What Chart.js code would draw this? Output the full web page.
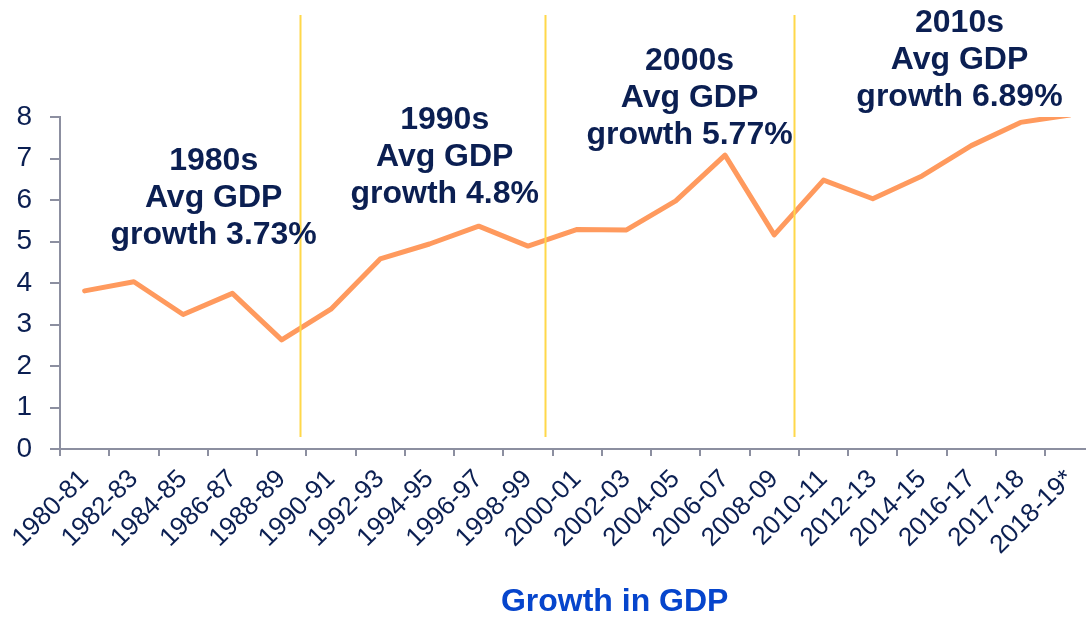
<!DOCTYPE html>
<html>
<head>
<meta charset="utf-8">
<script src="https://cdn.jsdelivr.net/npm/chart.js@4"></script>
<style>
  html, body { margin: 0; padding: 0; background: #fff; overflow: hidden; }
  #box { position: absolute; left: 0; top: 0; width: 1100px; height: 618px; }
</style>
</head>
<body>
<div id="box"><canvas id="gdp"></canvas></div>
<script>
// financial years on the x axis
var years = ['1980-81','1982-83','1984-85','1986-87','1988-89','1990-91','1992-93','1994-95',
  '1996-97','1998-99','2000-01','2002-03','2004-05','2006-07','2008-09','2010-11','2012-13',
  '2014-15','2016-17','2017-18','2018-19*'];
// GDP growth (%)
var growth = [3.81, 4.03, 3.24, 3.75, 2.63, 3.37, 4.58, 4.94, 5.37, 4.89, 5.29, 5.28,
  5.98, 7.08, 5.16, 6.48, 6.03, 6.58, 7.31, 7.87, 8.05];
var yTicks = [0, 1, 2, 3, 4, 5, 6, 7, 8];

// decade averages
var decades = ['1980s', '1990s', '2000s', '2010s'];
var decadeAvg = ['3.73', '4.8', '5.77', '6.89'];

// where the decade notes and yellow dividers sit (in scale units)
var notePos = [[2.62, 6.05], [7.31, 7.02], [12.28, 8.46], [17.76, 9.37]];
var dividers = [4.37, 9.34, 14.41];

var navy = '#0B1F52';
var axisGrey = '#8C8FA0';

var decadePlugin = {
  id: 'decadeNotes',
  afterDatasetsDraw: function(chart) {
    var ctx = chart.ctx;
    var xs = chart.scales.x, ys = chart.scales.y;
    ctx.save();
    // yellow dividers
    ctx.strokeStyle = '#FFD84A';
    ctx.lineWidth = 2;
    for (var i = 0; i < dividers.length; i++) {
      var px = Math.round(xs.getPixelForValue(dividers[i])) + 0.5;
      ctx.beginPath();
      ctx.moveTo(px, ys.getPixelForValue(10.46));
      ctx.lineTo(px, ys.getPixelForValue(0.29));
      ctx.stroke();
    }
    // decade text
    ctx.fillStyle = navy;
    ctx.font = 'bold 32px "Liberation Sans", Arial, sans-serif';
    ctx.textAlign = 'center';
    ctx.textBaseline = 'middle';
    for (var j = 0; j < decades.length; j++) {
      var cx = xs.getPixelForValue(notePos[j][0]);
      var cy = ys.getPixelForValue(notePos[j][1]);
      var lines = [decades[j], 'Avg GDP', 'growth ' + decadeAvg[j] + '%'];
      for (var k = 0; k < lines.length; k++) {
        ctx.fillText(lines[k], cx, cy + (k - 1) * 37);
      }
    }
    // axis title
    ctx.fillStyle = '#0645CC';
    ctx.font = 'bold 32px "Liberation Sans", Arial, sans-serif';
    ctx.fillText('Growth in GDP', xs.getPixelForValue(10.76), 602);
    ctx.restore();
  }
};

var chart = new Chart(document.getElementById('gdp'), {
  type: 'line',
  data: {
    labels: years,
    datasets: [{
      label: 'Growth in GDP',
      data: growth,
      borderColor: '#FF9A5E',
      borderWidth: 5,
      pointRadius: 0,
      tension: 0,
      borderJoinStyle: 'round',
      borderCapStyle: 'round'
    }]
  },
  options: {
    responsive: true,
    maintainAspectRatio: false,
    animation: false,
    layout: { padding: { top: 117, right: 5, left: 0, bottom: 0 } },
    plugins: {
      legend: { display: false },
      tooltip: { enabled: false }
    },
    scales: {
      x: {
        offset: true,
        grid: { offset: true, drawOnChartArea: false, drawTicks: true, tickLength: 7, color: axisGrey, lineWidth: 2 },
        border: { color: axisGrey, width: 2 },
        ticks: {
          autoSkip: false,
          minRotation: 45,
          maxRotation: 45,
          padding: 8,
          color: navy,
          font: { family: '"Liberation Sans", Arial, sans-serif', size: 26 }
        },
        afterFit: function(s) { s.height = 169; }
      },
      y: {
        min: 0,
        max: 8,
        afterBuildTicks: function(s) { s.ticks = yTicks.map(function(v) { return { value: v }; }); },
        grid: { drawOnChartArea: false, drawTicks: true, tickLength: 10, color: axisGrey, lineWidth: 2 },
        border: { color: axisGrey, width: 2 },
        ticks: {
          padding: 18,
          color: navy,
          font: { family: '"Liberation Sans", Arial, sans-serif', size: 28 }
        },
        afterFit: function(s) { s.width = 60; }
      }
    }
  },
  plugins: [decadePlugin]
});
</script>
</body>
</html>
